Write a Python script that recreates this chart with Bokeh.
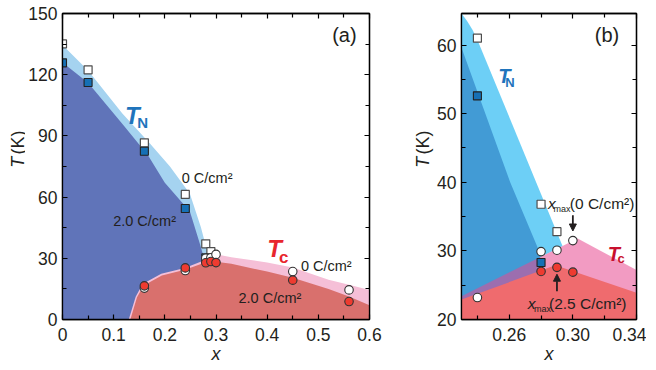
import numpy as np
from bokeh.plotting import figure
from bokeh.models import (LinearAxis, FixedTicker, Label, Arrow, NormalHead, Range1d,
                          CustomJSTickFormatter)
from bokeh.layouts import row
from bokeh.embed import file_html
from bokeh.resources import INLINE

FONT = "Liberation Sans"
TXT = "#231F20"
H = 367

# ---------------- panel (a) data ----------------
xa_TN0 = [0, 0.05, 0.16, 0.24, 0.28, 0.29]
TN0_a = [135.1, 122.4, 86.6, 61.3, 37.1, 33.3]
xa_TN2 = [0, 0.05, 0.16, 0.24, 0.28]
TN2_a = [125.8, 116.2, 82.5, 54.4, 30.2]
xa_Tc = [0.16, 0.24, 0.28, 0.29, 0.30, 0.45, 0.56]
Tc0_a = [15.4, 24.0, 30.0, 30.3, 31.9, 23.5, 14.5]
Tc2_a = [16.5, 25.3, 27.8, 28.4, 27.9, 19.3, 8.8]

# phase boundaries (a)
bTN0_a_x = [0, 0.05, 0.117, 0.17, 0.21, 0.249, 0.2705, 0.2816, 0.29]
bTN0_a_T = [134.5, 122, 101, 86.5, 75, 61.6, 45.2, 34.7, 30.8]
bTN2_a_x = [0, 0.05, 0.12, 0.167, 0.2, 0.249, 0.2686, 0.2751, 0.278]
bTN2_a_T = [126, 116, 95, 80.5, 67, 53, 37, 31.4, 29]
bTc0_a_x = [0.1295, 0.143, 0.1565, 0.193, 0.239, 0.27, 0.285, 0.30, 0.33, 0.40, 0.45, 0.52, 0.56, 0.60]
bTc0_a_T = [0, 11.2, 17.4, 22.4, 25.3, 28.3, 30.3, 32, 30.5, 28, 25.5, 19.5, 17, 14.5]
bTc2_a_x = [0.1326, 0.1456, 0.1586, 0.1942, 0.2394, 0.272, 0.30, 0.33, 0.40, 0.45, 0.52, 0.56, 0.60]
bTc2_a_T = [0, 10.9, 16.7, 21.6, 24.4, 27.3, 28.3, 27.3, 23.5, 20.5, 15, 11.3, 7]

xa_ticks = [0, 0.1, 0.2, 0.3, 0.4, 0.5, 0.6]
xa_tick_labels = ["0", "0.1", "0.2", "0.3", "0.4", "0.5", "0.6"]
xa_minor = [0.05, 0.15, 0.25, 0.35, 0.45, 0.55]
ya_ticks = [0, 30, 60, 90, 120, 150]
ya_minor = [15, 45, 75, 105, 135]

# ---------------- panel (b) data ----------------
xb_TN0 = [0.24, 0.28, 0.29]
TN0_b = [61.0, 36.8, 32.8]
xb_TN2 = [0.24, 0.28]
TN2_b = [52.6, 28.3]
xb_Tc0 = [0.24, 0.28, 0.29, 0.30]
Tc0_b = [23.2, 29.9, 30.1, 31.5]
xb_Tc2 = [0.28, 0.29, 0.30]
Tc2_b = [27.0, 27.6, 26.9]

bTN0_b_x = [0.23, 0.2335, 0.237, 0.2408, 0.2773, 0.2935]
bTN0_b_T = [64.6, 63.5, 62.2, 60.3, 39.8, 30.7]
bTN2_b_x = [0.23, 0.2606, 0.2795]
bTN2_b_T = [59.6, 40.0, 29.6]
bTc0_b_x = [0.23, 0.303, 0.34]
bTc0_b_T = [23.4, 31.8, 27.2]
bTc2_b_x = [0.23, 0.289, 0.34]
bTc2_b_T = [22.9, 27.9, 23.9]

xb_ticks = [0.26, 0.30, 0.34]
xb_tick_labels = ["0.26", "0.30", "0.34"]
xb_minor = [0.24, 0.28, 0.32]
yb_ticks = [20, 30, 40, 50, 60]
yb_minor = [25, 35, 45, 55]


def style_axis(ax, ticks, minor, labels=None, show=True, standoff=5):
    ax.ticker = FixedTicker(ticks=ticks, minor_ticks=minor)
    ax.major_tick_in = 5
    ax.major_tick_out = 0
    ax.minor_tick_in = 4
    ax.minor_tick_out = 0
    ax.axis_line_width = 1.3
    ax.major_tick_line_width = 1.2
    ax.minor_tick_line_width = 1.2
    ax.axis_line_color = "black"
    ax.major_tick_line_color = "black"
    ax.minor_tick_line_color = "black"
    if show:
        ax.major_label_text_font = FONT
        ax.major_label_text_font_size = "17.5px"
        ax.major_label_text_color = TXT
        ax.major_label_standoff = standoff
        if labels is not None:
            ax.major_label_overrides = dict(zip(ticks, labels))
    else:
        ax.formatter = CustomJSTickFormatter(code="return ''")
        ax.major_label_text_font_size = "0px"
        ax.major_label_standoff = 0


def make_fig(xr, yr, w, mbl, mbr, xt, xm, xl, yt, ym):
    p = figure(x_range=Range1d(*xr), y_range=Range1d(*yr), width=w, height=H,
               min_border_left=mbl, min_border_right=mbr, min_border_top=13, min_border_bottom=48,
               output_backend="svg", toolbar_location=None)
    p.grid.visible = False
    p.outline_line_color = "black"
    p.outline_line_width = 1.3
    p.background_fill_color = "white"
    p.border_fill_color = "white"
    style_axis(p.xaxis[0], xt, xm, xl, standoff=8)
    style_axis(p.yaxis[0], yt, ym, standoff=5)
    p.xaxis[0].axis_label = "x"
    p.xaxis[0].axis_label_text_font = FONT
    p.xaxis[0].axis_label_text_font_style = "italic"
    p.xaxis[0].axis_label_text_font_size = "18px"
    p.xaxis[0].axis_label_text_color = TXT
    p.xaxis[0].axis_label_standoff = 0
    top = LinearAxis()
    style_axis(top, xt, xm, show=False)
    p.add_layout(top, "above")
    right = LinearAxis()
    style_axis(right, yt, ym, show=False)
    p.add_layout(right, "right")
    return p


def label_fig(w, xc):
    """Narrow strip carrying the vertical axis title 'T (K)' (italic T)."""
    f = figure(width=w, height=H, x_range=Range1d(0, w), y_range=Range1d(0, H),
               min_border=0, output_backend="svg", toolbar_location=None)
    f.axis.visible = False
    f.grid.visible = False
    f.outline_line_color = None
    f.add_layout(Label(x=xc, y=H - 185, text="T", angle=np.pi / 2,
                       text_font=FONT, text_font_style="italic", text_font_size="18px",
                       text_color=TXT, text_baseline="middle", text_align="left"))
    f.add_layout(Label(x=xc, y=H - 169, text="(K)", angle=np.pi / 2,
                       text_font=FONT, text_font_size="18px",
                       text_color=TXT, text_baseline="middle", text_align="left"))
    return f


def txt(p, x, y, s, size, color=TXT, style="normal", baseline="alphabetic"):
    p.add_layout(Label(x=x, y=y, text=s, text_font=FONT, text_font_size=size, text_color=color,
                       text_font_style=style, text_baseline=baseline, text_align="left"))


# ================= panel (a) =================
pa = make_fig((0, 0.6), (0, 150), 359, 35, 15, xa_ticks, xa_minor, xa_tick_labels, ya_ticks, ya_minor)

pa.patch(bTN0_a_x + [bTN0_a_x[-1], 0], bTN0_a_T + [0, 0], fill_color="#A5D3F0", line_color=None)
pa.patch(bTN2_a_x + [bTN2_a_x[-1], 0], bTN2_a_T + [0, 0], fill_color="#6074B9", line_color=None)
pa.patch(bTc0_a_x + [bTc0_a_x[-1]], bTc0_a_T + [0], fill_color="#F5BFD7", line_color=None)
pa.patch(bTc2_a_x + [bTc2_a_x[-1]], bTc2_a_T + [0], fill_color="#D9706D", line_color=None)

pa.scatter(xa_TN0, TN0_a, marker="square", size=8, fill_color="white", line_color="#4D4D4D", line_width=1.2)
pa.scatter(xa_TN2, TN2_a, marker="square", size=8, fill_color="#1670B5", line_color="#222222", line_width=1.1)
pa.scatter(xa_Tc, Tc0_a, marker="circle", size=8.5, fill_color="white", line_color="#333333", line_width=1.1)
pa.scatter(xa_Tc, Tc2_a, marker="circle", size=8.5, fill_color="#EE3B30", line_color="#333333", line_width=1.1)

txt(pa, 0.527, 139.7, "(a)", "20px", baseline="middle")
txt(pa, 0.122, 100, "T", "24px", "#1F74BC", "bold italic")
txt(pa, 0.146, 96.6, "N", "15px", "#1F74BC", "bold")
txt(pa, 0.233, 69.6, "0 C/cm²", "14.5px")
txt(pa, 0.099, 48.5, "2.0 C/cm²", "14.5px")
txt(pa, 0.400, 34.8, "T", "24px", "#E8262D", "bold italic")
txt(pa, 0.423, 30.4, "c", "17px", "#E8262D", "bold")
txt(pa, 0.466, 26.0, "0 C/cm²", "14.5px")
txt(pa, 0.344, 10.3, "2.0 C/cm²", "14.5px")

# ================= panel (b) =================
pb = make_fig((0.23, 0.34), (20, 64.6), 212, 27, 10, xb_ticks, xb_minor, xb_tick_labels, yb_ticks, yb_minor)

pk_at = float(np.interp(bTN2_b_x[-1], bTc0_b_x, bTc0_b_T))
pb.patch(bTN0_b_x + [bTN2_b_x[-1], bTN0_b_x[0]], bTN0_b_T + [pk_at, pk_at],
         fill_color="#6DCFF6", line_color=None)
pb.patch([bTN2_b_x[0]] + bTN2_b_x + [bTN2_b_x[-1]], [20] + bTN2_b_T + [20],
         fill_color="#429BD5", line_color=None)
pb.patch([bTc0_b_x[0]] + bTc0_b_x + [bTc0_b_x[-1]], [20] + bTc0_b_T + [20],
         fill_color="#E7498F", fill_alpha=0.55, line_color=None)
pb.patch([bTc2_b_x[0]] + bTc2_b_x + [bTc2_b_x[-1]], [20] + bTc2_b_T + [20],
         fill_color="#EF6B6E", line_color=None)

pb.scatter(xb_TN0, TN0_b, marker="square", size=8, fill_color="white", line_color="#4D4D4D", line_width=1.2)
pb.scatter(xb_TN2, TN2_b, marker="square", size=8, fill_color="#1670B5", line_color="#222222", line_width=1.1)
pb.scatter(xb_Tc0, Tc0_b, marker="circle", size=8.5, fill_color="white", line_color="#333333", line_width=1.1)
pb.scatter(xb_Tc2, Tc2_b, marker="circle", size=8.5, fill_color="#EE3B30", line_color="#333333", line_width=1.1)

txt(pb, 0.3138, 61.45, "(b)", "20px", baseline="middle")
txt(pb, 0.2531, 55.5, "T", "20px", "#1F74BC", "bold italic")
txt(pb, 0.2575, 54.5, "N", "13px", "#1F74BC", "bold")
txt(pb, 0.3219, 29.6, "T", "20px", "#C8102E", "bold italic")
txt(pb, 0.3281, 28.9, "c", "13px", "#C8102E", "bold")
txt(pb, 0.2844, 36.9, "x", "15.5px", style="italic")
txt(pb, 0.2878, 36.1, "max", "9px")
txt(pb, 0.2981, 36.9, "(0 C/cm²)", "15.5px")
txt(pb, 0.2717, 22.4, "x", "15.5px", style="italic")
txt(pb, 0.2756, 21.6, "max", "9px")
txt(pb, 0.2850, 22.4, "(2.5 C/cm²)", "15.5px")

pb.add_layout(Arrow(x_start=0.30, y_start=35.2, x_end=0.30, y_end=32.9, line_width=1.8, line_color=TXT,
                    end=NormalHead(size=7, fill_color=TXT, line_color=TXT)))
pb.add_layout(Arrow(x_start=0.29, y_start=24.1, x_end=0.29, y_end=26.6, line_width=1.8, line_color=TXT,
                    end=NormalHead(size=7, fill_color=TXT, line_color=TXT)))

la = label_fig(25, 17)
lb = label_fig(50, 38)

layout = row(la, pa, lb, pb)
open("out.html", "w").write(file_html(layout, INLINE))
